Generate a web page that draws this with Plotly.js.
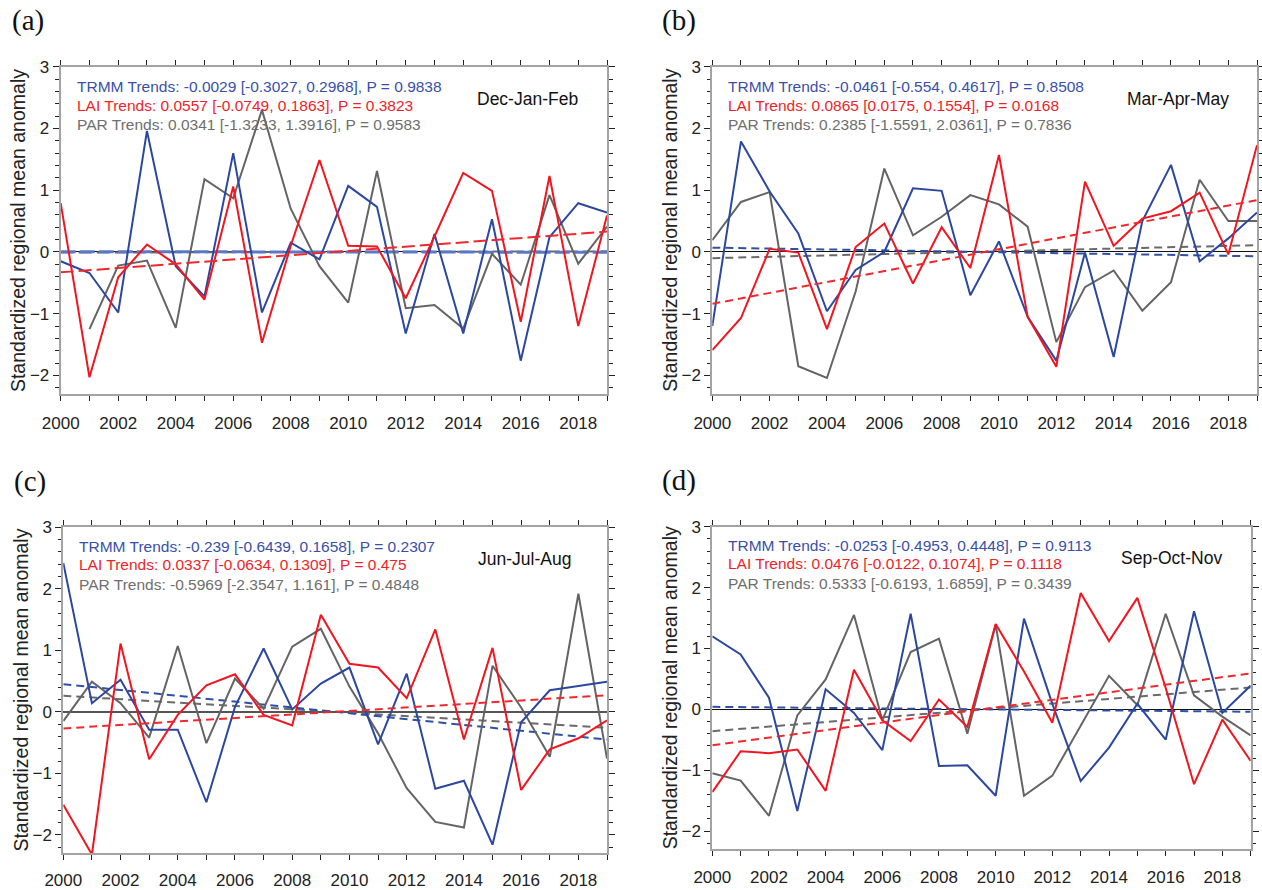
<!DOCTYPE html>
<html>
<head>
<meta charset="utf-8">
<script src="https://cdn.plot.ly/plotly-3.0.1.min.js"></script>
<style>
  html, body { margin: 0; padding: 0; background: #fff; }
  #chart { width: 1262px; height: 890px; }
</style>
</head>
<body>
<div id="chart"></div>
<script>
// ---- data ----------------------------------------------------------------
const years = [2000, 2001, 2002, 2003, 2004, 2005, 2006, 2007, 2008, 2009,
               2010, 2011, 2012, 2013, 2014, 2015, 2016, 2017, 2018, 2019];
const tickLabels = ['2000', '', '2002', '', '2004', '', '2006', '', '2008', '',
                    '2010', '', '2012', '', '2014', '', '2016', '', '2018', ''];
const trendYears = [2000, 2019];

// Dec-Jan-Feb
const djfTRMM = [-0.15, -0.34, -0.98, 1.96, -0.23, -0.72, 1.60, -0.98, 0.15, -0.12,
                 1.07, 0.73, -1.32, 0.29, -1.32, 0.53, -1.76, 0.24, 0.79, 0.64];
const djfLAI  = [0.79, -2.03, -0.41, 0.12, -0.20, -0.77, 1.06, -1.47, 0.10, 1.49,
                 0.10, 0.09, -0.75, 0.25, 1.28, 0.99, -1.13, 1.23, -1.20, 0.59];
const djfPAR  = [null, -1.25, -0.22, -0.14, -1.23, 1.18, 0.87, 2.30, 0.70, -0.23,
                 -0.82, 1.31, -0.91, -0.86, -1.24, -0.03, -0.53, 0.92, -0.19, 0.41];
const djfTrendTRMM = [0.005, -0.005];
const djfTrendLAI  = [-0.33, 0.33];
const djfTrendPAR  = [-0.01, 0.01];
const djfStats = [
  'TRMM Trends: -0.0029 [-0.3027, 0.2968], P = 0.9838',
  'LAI Trends: 0.0557 [-0.0749, 0.1863], P = 0.3823',
  'PAR Trends: 0.0341 [-1.3233, 1.3916], P = 0.9583'
];

// Mar-Apr-May
const mamTRMM = [-1.20, 1.79, 0.98, 0.30, -0.96, -0.29, 0.00, 1.03, 0.99, -0.70,
                 0.17, -1.05, -1.76, -0.01, -1.70, 0.50, 1.41, -0.15, 0.22, 0.64];
const mamLAI  = [-1.59, -1.07, 0.05, -0.01, -1.25, 0.08, 0.46, -0.51, 0.40, -0.26,
                 1.57, -1.05, -1.86, 1.14, 0.10, 0.54, 0.66, 0.96, -0.04, 1.73];
const mamPAR  = [0.19, 0.81, 0.97, -1.85, -2.04, -0.64, 1.35, 0.27, 0.57, 0.92,
                 0.77, 0.41, -1.46, -0.57, -0.30, -0.95, -0.49, 1.17, 0.50, 0.50];
const mamTrendTRMM = [0.07, -0.07];
const mamTrendLAI  = [-0.84, 0.84];
const mamTrendPAR  = [-0.10, 0.11];
const mamStats = [
  'TRMM Trends: -0.0461 [-0.554, 0.4617], P = 0.8508',
  'LAI Trends: 0.0865 [0.0175, 0.1554], P = 0.0168',
  'PAR Trends: 0.2385 [-1.5591, 2.0361], P = 0.7836'
];

// Jun-Jul-Aug
const jjaTRMM = [2.42, 0.14, 0.52, -0.29, -0.29, -1.47, 0.08, 1.03, 0.04, 0.46,
                 0.72, -0.53, 0.62, -1.25, -1.12, -2.16, -0.17, 0.35, 0.42, 0.49];
const jjaLAI  = [-1.51, -2.32, 1.11, -0.77, -0.05, 0.43, 0.61, -0.05, -0.22, 1.58,
                 0.78, 0.72, 0.22, 1.34, -0.45, 1.04, -1.27, -0.61, -0.43, -0.14];
const jjaPAR  = [-0.15, 0.49, 0.14, -0.42, 1.07, -0.51, 0.54, 0.05, 1.06, 1.35,
                 0.41, -0.35, -1.24, -1.79, -1.88, 0.75, 0.07, -0.73, 1.92, -0.76];
const jjaTrendTRMM = [0.45, -0.45];
const jjaTrendLAI  = [-0.27, 0.27];
const jjaTrendPAR  = [0.26, -0.26];
const jjaStats = [
  'TRMM Trends: -0.239 [-0.6439, 0.1658], P = 0.2307',
  'LAI Trends: 0.0337 [-0.0634, 0.1309], P = 0.475',
  'PAR Trends: -0.5969 [-2.3547, 1.161], P = 0.4848'
];

// Sep-Oct-Nov
const sonTRMM = [1.20, 0.90, 0.19, -1.67, 0.33, -0.06, -0.67, 1.57, -0.93, -0.92,
                 -1.42, 1.49, 0.09, -1.18, -0.63, 0.09, -0.50, 1.61, -0.06, 0.39];
const sonLAI  = [-1.36, -0.69, -0.72, -0.66, -1.34, 0.65, -0.18, -0.52, 0.16, -0.29,
                 1.40, 0.62, -0.22, 1.91, 1.12, 1.83, 0.35, -1.23, -0.17, -0.85];
const sonPAR  = [-1.05, -1.17, -1.75, -0.10, 0.49, 1.55, -0.18, 0.94, 1.16, -0.40,
                 1.39, -1.42, -1.09, -0.27, 0.55, 0.07, 1.57, 0.23, -0.12, -0.43];
const sonTrendTRMM = [0.04, -0.04];
const sonTrendLAI  = [-0.59, 0.59];
const sonTrendPAR  = [-0.36, 0.36];
const sonStats = [
  'TRMM Trends: -0.0253 [-0.4953, 0.4448], P = 0.9113',
  'LAI Trends: 0.0476 [-0.0122, 0.1074], P = 0.1118',
  'PAR Trends: 0.5333 [-0.6193, 1.6859], P = 0.3439'
];

const seasons = ['Dec-Jan-Feb', 'Mar-Apr-May', 'Jun-Jul-Aug', 'Sep-Oct-Nov'];
const panelLetters = ['(a)', '(b)', '(c)', '(d)'];
const yTitle = 'Standardized regional mean anomaly';

// ---- styling ---------------------------------------------------------------
const W = 1262, H = 890;
const px = x => x / W;
const py = y => 1 - y / H;

const COL = { trmm: '#2b47a0', lai: '#f2151f', par: '#646464' };
const TXT = { trmm: '#3a4fa8', lai: '#f01e28', par: '#6e6e6e' };
const SANS = 'Arial';
const SERIF = 'Times New Roman';

// plot-area boxes in pixels: left, right, top, bottom, stats rows, season label
const boxes = [
  { l: 60.7,  r: 607,    t: 66.7,  b: 394,   rows: [86.7, 105.5, 124.5], sy: 99,  sr: 580,  so: 8 },
  { l: 712.3, r: 1257,   t: 66.7,  b: 394,   rows: [86.7, 105.5, 124.5], sy: 99,  sr: 1231, so: 8 },
  { l: 63.3,  r: 607,    t: 527.3, b: 853.3, rows: [546, 564.5, 584],    sy: 559, sr: 573,  so: 5 },
  { l: 712.3, r: 1250.7, t: 526.7, b: 849.3, rows: [545, 563.5, 583],    sy: 558, sr: 1224, so: 6 }
];

const panels = [
  { trmm: djfTRMM, lai: djfLAI, par: djfPAR, tT: djfTrendTRMM, tL: djfTrendLAI, tP: djfTrendPAR, stats: djfStats },
  { trmm: mamTRMM, lai: mamLAI, par: mamPAR, tT: mamTrendTRMM, tL: mamTrendLAI, tP: mamTrendPAR, stats: mamStats },
  { trmm: jjaTRMM, lai: jjaLAI, par: jjaPAR, tT: jjaTrendTRMM, tL: jjaTrendLAI, tP: jjaTrendPAR, stats: jjaStats },
  { trmm: sonTRMM, lai: sonLAI, par: sonPAR, tT: sonTrendTRMM, tL: sonTrendLAI, tP: sonTrendPAR, stats: sonStats }
];

const traces = [];
const layout = {
  width: W, height: H,
  margin: { l: 0, r: 0, t: 0, b: 0 },
  paper_bgcolor: '#ffffff',
  plot_bgcolor: '#ffffff',
  showlegend: false,
  font: { family: SANS, color: '#222' },
  annotations: []
};

panels.forEach((p, i) => {
  const b = boxes[i];
  const n = i + 1;
  const xa = n === 1 ? 'x' : 'x' + n;
  const ya = n === 1 ? 'y' : 'y' + n;
  const first = i === 0;

  // trend lines (panel a uses longer dashes and a heavier TRMM line)
  const dashShort = '8px,5px';
  const dashLong = '13px,5px';
  traces.push({ x: trendYears, y: p.tP, xaxis: xa, yaxis: ya, mode: 'lines',
    line: { color: '#6a6a6a', width: 2, dash: first ? dashLong : dashShort }, hoverinfo: 'skip' });
  traces.push({ x: trendYears, y: p.tT, xaxis: xa, yaxis: ya, mode: 'lines',
    line: { color: first ? '#5a78c8' : '#3050a8', width: first ? 3 : 2, dash: first ? '15px,4px' : dashShort }, hoverinfo: 'skip' });

  // anomaly series
  traces.push({ x: years, y: p.par, xaxis: xa, yaxis: ya, mode: 'lines',
    line: { color: COL.par, width: 2 }, connectgaps: false, name: 'PAR' });
  traces.push({ x: years, y: p.trmm, xaxis: xa, yaxis: ya, mode: 'lines',
    line: { color: COL.trmm, width: 2 }, name: 'TRMM' });
  traces.push({ x: years, y: p.lai, xaxis: xa, yaxis: ya, mode: 'lines',
    line: { color: COL.lai, width: 2 }, name: 'LAI' });

  traces.push({ x: trendYears, y: p.tL, xaxis: xa, yaxis: ya, mode: 'lines',
    line: { color: '#f0282e', width: 2, dash: first ? dashLong : dashShort }, hoverinfo: 'skip' });

  layout['xaxis' + (n === 1 ? '' : n)] = {
    domain: [px(b.l), px(b.r)],
    anchor: ya,
    range: [2000, 2019],
    tickmode: 'array',
    tickvals: years,
    ticktext: tickLabels,
    ticks: 'outside', ticklen: 5, tickwidth: 1, tickcolor: '#222',
    ticklabelstandoff: b.so,
    showline: true, linecolor: '#a3a3a3', linewidth: 2,
    mirror: 'ticks',
    showgrid: false, zeroline: false,
    tickfont: { family: SANS, size: 17, color: '#222' }
  };
  layout['yaxis' + (n === 1 ? '' : n)] = {
    domain: [py(b.b), py(b.t)],
    anchor: xa,
    range: [-2.3, 3],
    tickmode: 'linear', tick0: 0, dtick: 1,
    ticks: 'outside', ticklen: 6, tickwidth: 1, tickcolor: '#222',
    minor: { tick0: 0, dtick: 0.2, ticks: 'outside', ticklen: 3.5, tickwidth: 1, tickcolor: '#222' },
    showline: true, linecolor: '#a3a3a3', linewidth: 2,
    mirror: 'ticks',
    showgrid: false,
    zeroline: true,
    zerolinecolor: i === 2 ? '#555555' : '#111111',
    zerolinewidth: i === 2 ? 2 : 1,
    tickfont: { family: SANS, size: 17, color: '#222' }
  };

  // statistics block
  const keys = ['trmm', 'lai', 'par'];
  p.stats.forEach((s, k) => {
    layout.annotations.push({
      xref: 'paper', yref: 'paper', x: px(b.l + 14), y: py(b.rows[k]),
      xanchor: 'left', yanchor: 'middle', showarrow: false,
      text: s, font: { family: SANS, size: 15.5, color: TXT[keys[k]] }
    });
  });

  // season name
  layout.annotations.push({
    xref: 'paper', yref: 'paper', x: px(b.sr), y: py(b.sy),
    xanchor: 'right', yanchor: 'middle', showarrow: false,
    text: seasons[i], font: { family: SANS, size: 17.5, color: '#111' }
  });

  // y-axis title
  layout.annotations.push({
    xref: 'paper', yref: 'paper', x: px(b.l - 42), y: py((b.t + b.b) / 2),
    xanchor: 'center', yanchor: 'middle', showarrow: false, textangle: -90,
    text: yTitle, font: { family: SANS, size: 19.5, color: '#222' }
  });

  // panel letter
  layout.annotations.push({
    xref: 'paper', yref: 'paper', x: px(b.l - 33), y: py(b.t - 46),
    xanchor: 'center', yanchor: 'middle', showarrow: false,
    text: panelLetters[i], font: { family: SERIF, size: 29, color: '#111' }
  });
});

Plotly.newPlot('chart', traces, layout, { staticPlot: true, displayModeBar: false });
</script>
</body>
</html>
